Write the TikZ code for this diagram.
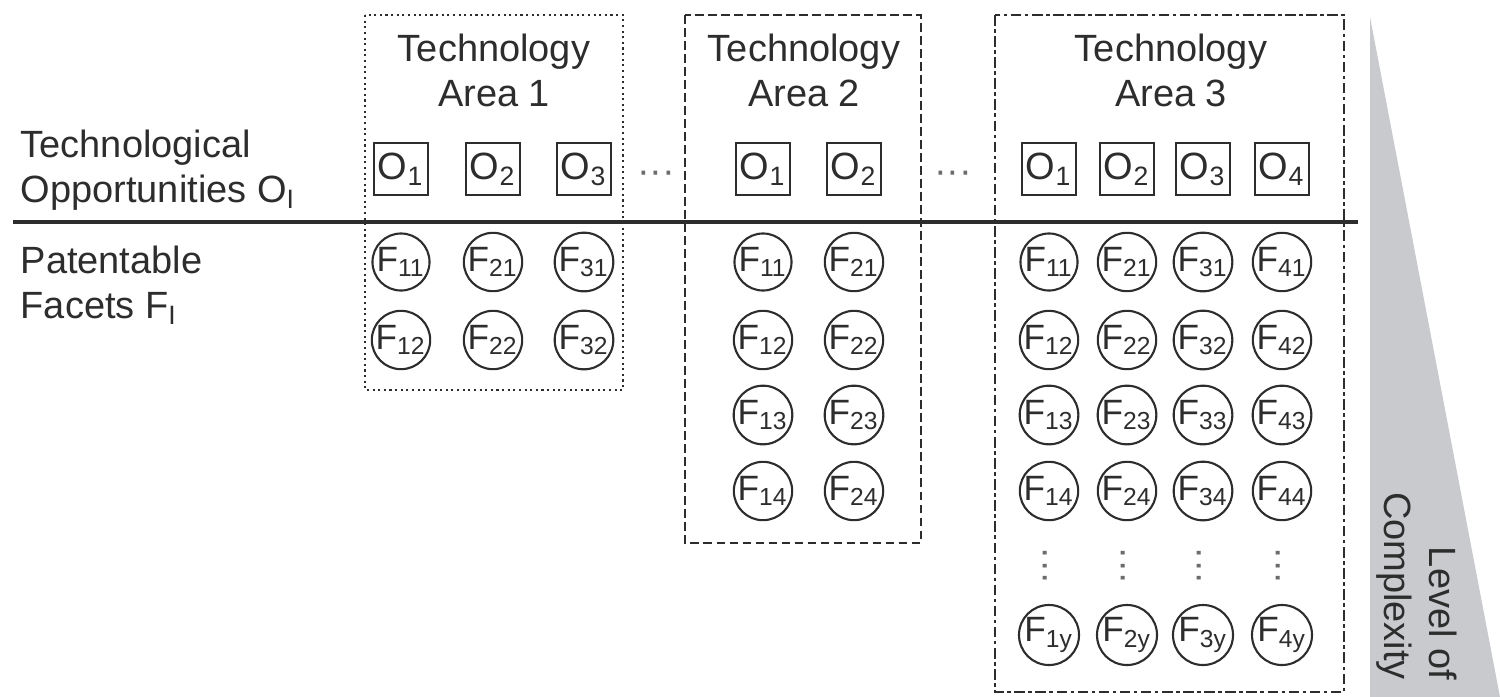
\documentclass[tikz,border=0pt]{standalone}
\usepackage{fontspec}
\setmainfont{Liberation Sans}
\definecolor{ink}{RGB}{45,45,45}
\definecolor{wedge}{RGB}{200,202,206}
\begin{document}
\begin{tikzpicture}[x=0.01cm,y=-0.01cm,
    every node/.style={text=ink,font=\fontsize{10.8}{12.8}\selectfont},
    opp/.style={draw=ink,line width=0.6pt,minimum width=0.54cm,minimum height=0.52cm,inner sep=0pt},
    facet/.style={draw=ink,line width=0.6pt,circle,minimum size=0.53cm,inner sep=0pt,font=\fontsize{10}{12}\selectfont},
    title/.style={align=center,inner sep=0pt},
    rowlabel/.style={align=left,anchor=north west,inner sep=0pt},
    gap/.style={text=ink!70,inner sep=0pt}]
  \useasboundingbox (0,0) rectangle (1500,697);
  \fill[wedge] (1370,17) -- (1370,697) -- (1500,697) -- cycle;
  \draw[ink,line width=0.6pt,densely dotted] (365,15) rectangle (623,390);
  \draw[ink,line width=0.6pt,dash pattern=on 2.5pt off 1.2pt] (685,15) rectangle (921,543);
  \draw[ink,line width=0.6pt,dash pattern=on 3pt off 1pt on 1pt off 1pt] (995,15) rectangle (1344,692);
  \coordinate (sepL) at (13,222);
  \coordinate (sepR) at (1358,222);
  \draw[ink,line width=0.9pt] (sepL) -- (sepR);
  \draw
    (20,129) node[rowlabel] (opps){Technological\\Opportunities O\textsubscript{I}}
    (20,245) node[rowlabel] (facs){Patentable\\Facets F\textsubscript{I}}
    (494,70) node[title] (t1){Technology\\Area 1}
    (804,70) node[title] (t2){Technology\\Area 2}
    (1171,70) node[title] (t3){Technology\\Area 3}
    (1417,586) node[rotate=-90,align=right,inner sep=0pt] (lvl){Level of\\Complexity}
    (656,177) node[gap] (g12){···}
    (953,177) node[gap] (g23){···};
  \draw
    (401,169) node[opp] (a1o1){O\textsubscript{1}}
    (493,169) node[opp] (a1o2){O\textsubscript{2}}
    (584,169) node[opp] (a1o3){O\textsubscript{3}}
    (763,169) node[opp] (a2o1){O\textsubscript{1}}
    (854,169) node[opp] (a2o2){O\textsubscript{2}}
    (1049,169) node[opp] (a3o1){O\textsubscript{1}}
    (1127,169) node[opp] (a3o2){O\textsubscript{2}}
    (1203,169) node[opp] (a3o3){O\textsubscript{3}}
    (1282,169) node[opp] (a3o4){O\textsubscript{4}};
  \draw
    (401,262) node[facet] (a1f11){F\textsubscript{11}}
    (493,262) node[facet] (a1f21){F\textsubscript{21}}
    (584,262) node[facet] (a1f31){F\textsubscript{31}}
    (401,340) node[facet] (a1f12){F\textsubscript{12}}
    (493,340) node[facet] (a1f22){F\textsubscript{22}}
    (584,340) node[facet] (a1f32){F\textsubscript{32}};
  \draw
    (763,262) node[facet] (a2f11){F\textsubscript{11}}
    (854,262) node[facet] (a2f21){F\textsubscript{21}}
    (763,340) node[facet] (a2f12){F\textsubscript{12}}
    (854,340) node[facet] (a2f22){F\textsubscript{22}}
    (763,415) node[facet] (a2f13){F\textsubscript{13}}
    (854,415) node[facet] (a2f23){F\textsubscript{23}}
    (763,491) node[facet] (a2f14){F\textsubscript{14}}
    (854,491) node[facet] (a2f24){F\textsubscript{24}};
  \draw
    (1049,262) node[facet] (a3f11){F\textsubscript{11}}
    (1127,262) node[facet] (a3f21){F\textsubscript{21}}
    (1203,262) node[facet] (a3f31){F\textsubscript{31}}
    (1282,262) node[facet] (a3f41){F\textsubscript{41}}
    (1049,340) node[facet] (a3f12){F\textsubscript{12}}
    (1127,340) node[facet] (a3f22){F\textsubscript{22}}
    (1203,340) node[facet] (a3f32){F\textsubscript{32}}
    (1282,340) node[facet] (a3f42){F\textsubscript{42}}
    (1049,415) node[facet] (a3f13){F\textsubscript{13}}
    (1127,415) node[facet] (a3f23){F\textsubscript{23}}
    (1203,415) node[facet] (a3f33){F\textsubscript{33}}
    (1282,415) node[facet] (a3f43){F\textsubscript{43}}
    (1049,491) node[facet] (a3f14){F\textsubscript{14}}
    (1127,491) node[facet] (a3f24){F\textsubscript{24}}
    (1203,491) node[facet] (a3f34){F\textsubscript{34}}
    (1282,491) node[facet] (a3f44){F\textsubscript{44}}
    (1049,566) node[gap,rotate=90] (a3v1){···}
    (1127,566) node[gap,rotate=90] (a3v2){···}
    (1203,566) node[gap,rotate=90] (a3v3){···}
    (1282,566) node[gap,rotate=90] (a3v4){···}
    (1049,635) node[facet] (a3f1y){F\textsubscript{1y}}
    (1127,635) node[facet] (a3f2y){F\textsubscript{2y}}
    (1203,635) node[facet] (a3f3y){F\textsubscript{3y}}
    (1282,635) node[facet] (a3f4y){F\textsubscript{4y}};
\end{tikzpicture}
\end{document}
